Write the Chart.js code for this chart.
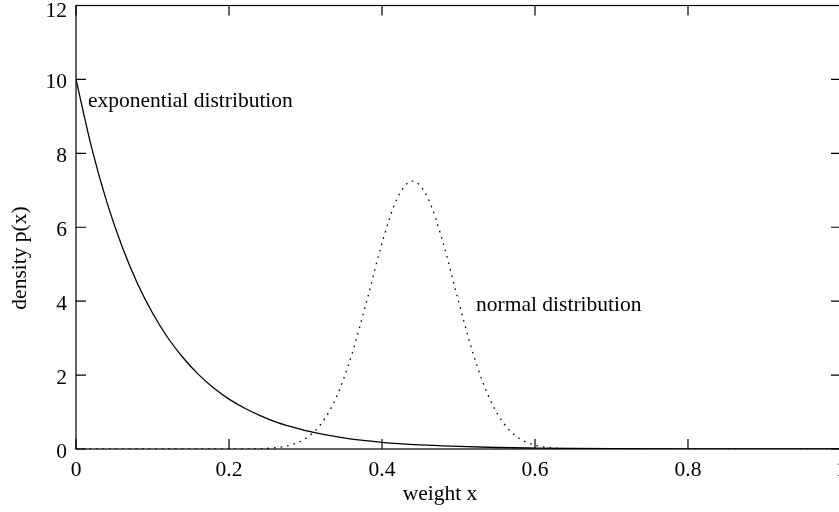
<!DOCTYPE html>
<html>
<head>
<meta charset="utf-8">
<script src="https://cdn.jsdelivr.net/npm/chart.js@4"></script>
<style>
  html, body { margin: 0; padding: 0; overflow: hidden; background: #fff; }
  #wrap { width: 860px; height: 512px; }
</style>
</head>
<body>
<div id="wrap"><canvas id="densityChart" width="860" height="512"></canvas></div>
<script>
// exponential density
const expX = [0, 0.02, 0.04, 0.06, 0.08, 0.10, 0.12, 0.14, 0.16, 0.18, 0.20, 0.22, 0.24, 0.26, 0.28, 0.30,
              0.35, 0.40, 0.45, 0.50, 0.55, 0.60, 0.65, 0.70, 0.80, 0.90, 1.00];
const expY = [10, 8.19, 6.70, 5.49, 4.49, 3.68, 3.01, 2.47, 2.02, 1.65, 1.35, 1.11, 0.91, 0.74, 0.61, 0.50,
              0.30, 0.18, 0.11, 0.07, 0.04, 0.025, 0.015, 0.009, 0.003, 0.001, 0.0005];

// normal density (dotted)
const normX = [0, 0.10, 0.20, 0.22, 0.24, 0.26, 0.28, 0.30, 0.32, 0.34, 0.36, 0.38, 0.40, 0.42, 0.44,
               0.46, 0.48, 0.50, 0.52, 0.54, 0.56, 0.58, 0.60, 0.62, 0.64, 0.66, 0.70, 0.80, 0.90, 1.00];
const normY = [0, 0, 0, 0.002, 0.01, 0.034, 0.105, 0.28, 0.67, 1.39, 2.52, 4.00, 5.57, 6.79, 7.25,
               6.79, 5.57, 4.00, 2.52, 1.39, 0.67, 0.28, 0.105, 0.034, 0.01, 0.002, 0, 0, 0, 0];

const xTicks = [0, 0.2, 0.4, 0.6, 0.8, 1];
const xTickLabels = ['0', '0.2', '0.4', '0.6', '0.8', '1'];
const yTicks = [0, 2, 4, 6, 8, 10, 12];
const yTickLabels = ['0', '2', '4', '6', '8', '10', '12'];

const xTitle = 'weight x';
const yTitle = 'density p(x)';
const expLabel = 'exponential distribution';
const normLabel = 'normal distribution';

const FONT = '21.5px "Liberation Serif", "Times New Roman", serif';

function pts(xs, ys) {
  return xs.map((x, i) => ({ x: x, y: ys[i] }));
}

// gnuplot-like frame, inward ticks and all the text
const gnuplotFrame = {
  id: 'gnuplotFrame',
  afterDraw(chart) {
    const ctx = chart.ctx;
    const a = chart.chartArea;
    const xs = chart.scales.x, ys = chart.scales.y;
    ctx.save();
    ctx.strokeStyle = '#000';
    ctx.lineWidth = 1.2;
    ctx.strokeRect(a.left, a.top, a.right - a.left, a.bottom - a.top);

    ctx.beginPath();
    xTicks.forEach(v => {
      const px = xs.getPixelForValue(v);
      ctx.moveTo(px, a.bottom); ctx.lineTo(px, a.bottom - 10);
      ctx.moveTo(px, a.top); ctx.lineTo(px, a.top + 10);
    });
    yTicks.forEach(v => {
      const py = ys.getPixelForValue(v);
      ctx.moveTo(a.left, py); ctx.lineTo(a.left + 10, py);
      ctx.moveTo(a.right, py); ctx.lineTo(a.right - 10, py);
    });
    ctx.stroke();

    ctx.fillStyle = '#000';
    ctx.font = FONT;
    ctx.textBaseline = 'middle';

    ctx.textAlign = 'right';
    yTicks.forEach((v, i) => {
      const py = Math.max(ys.getPixelForValue(v) + 3, 11);
      ctx.fillText(yTickLabels[i], a.left - 9, py);
    });
    ctx.textAlign = 'center';
    xTicks.forEach((v, i) => {
      ctx.fillText(xTickLabels[i], xs.getPixelForValue(v), a.bottom + 21);
    });

    ctx.fillText(xTitle, 440, 494);
    ctx.save();
    ctx.translate(20, 258);
    ctx.rotate(-Math.PI / 2);
    ctx.fillText(yTitle, 0, 0);
    ctx.restore();

    ctx.textAlign = 'left';
    ctx.fillText(expLabel, xs.getPixelForValue(0.0157), ys.getPixelForValue(9.40));
    ctx.fillText(normLabel, xs.getPixelForValue(0.523), ys.getPixelForValue(3.90));
    ctx.restore();
  }
};

const ctx = document.getElementById('densityChart').getContext('2d');

new Chart(ctx, {
  type: 'line',
  data: {
    datasets: [{
      label: 'exponential',
      data: pts(expX, expY),
      borderColor: '#000',
      borderWidth: 1.3,
      pointRadius: 0,
      cubicInterpolationMode: 'monotone',
      fill: false
    }, {
      label: 'normal',
      data: pts(normX, normY),
      borderColor: '#000',
      borderWidth: 1.3,
      borderDash: [1.6, 5],
      pointRadius: 0,
      cubicInterpolationMode: 'monotone',
      fill: false
    }]
  },
  options: {
    responsive: false,
    animation: false,
    events: [],
    layout: { padding: { left: 76, top: 5.5, right: 19, bottom: 63 } },
    plugins: {
      legend: { display: false },
      tooltip: { enabled: false }
    },
    scales: {
      x: { type: 'linear', min: 0, max: 1, display: false },
      y: { type: 'linear', min: 0, max: 12, display: false }
    }
  },
  plugins: [gnuplotFrame]
});
</script>
</body>
</html>
